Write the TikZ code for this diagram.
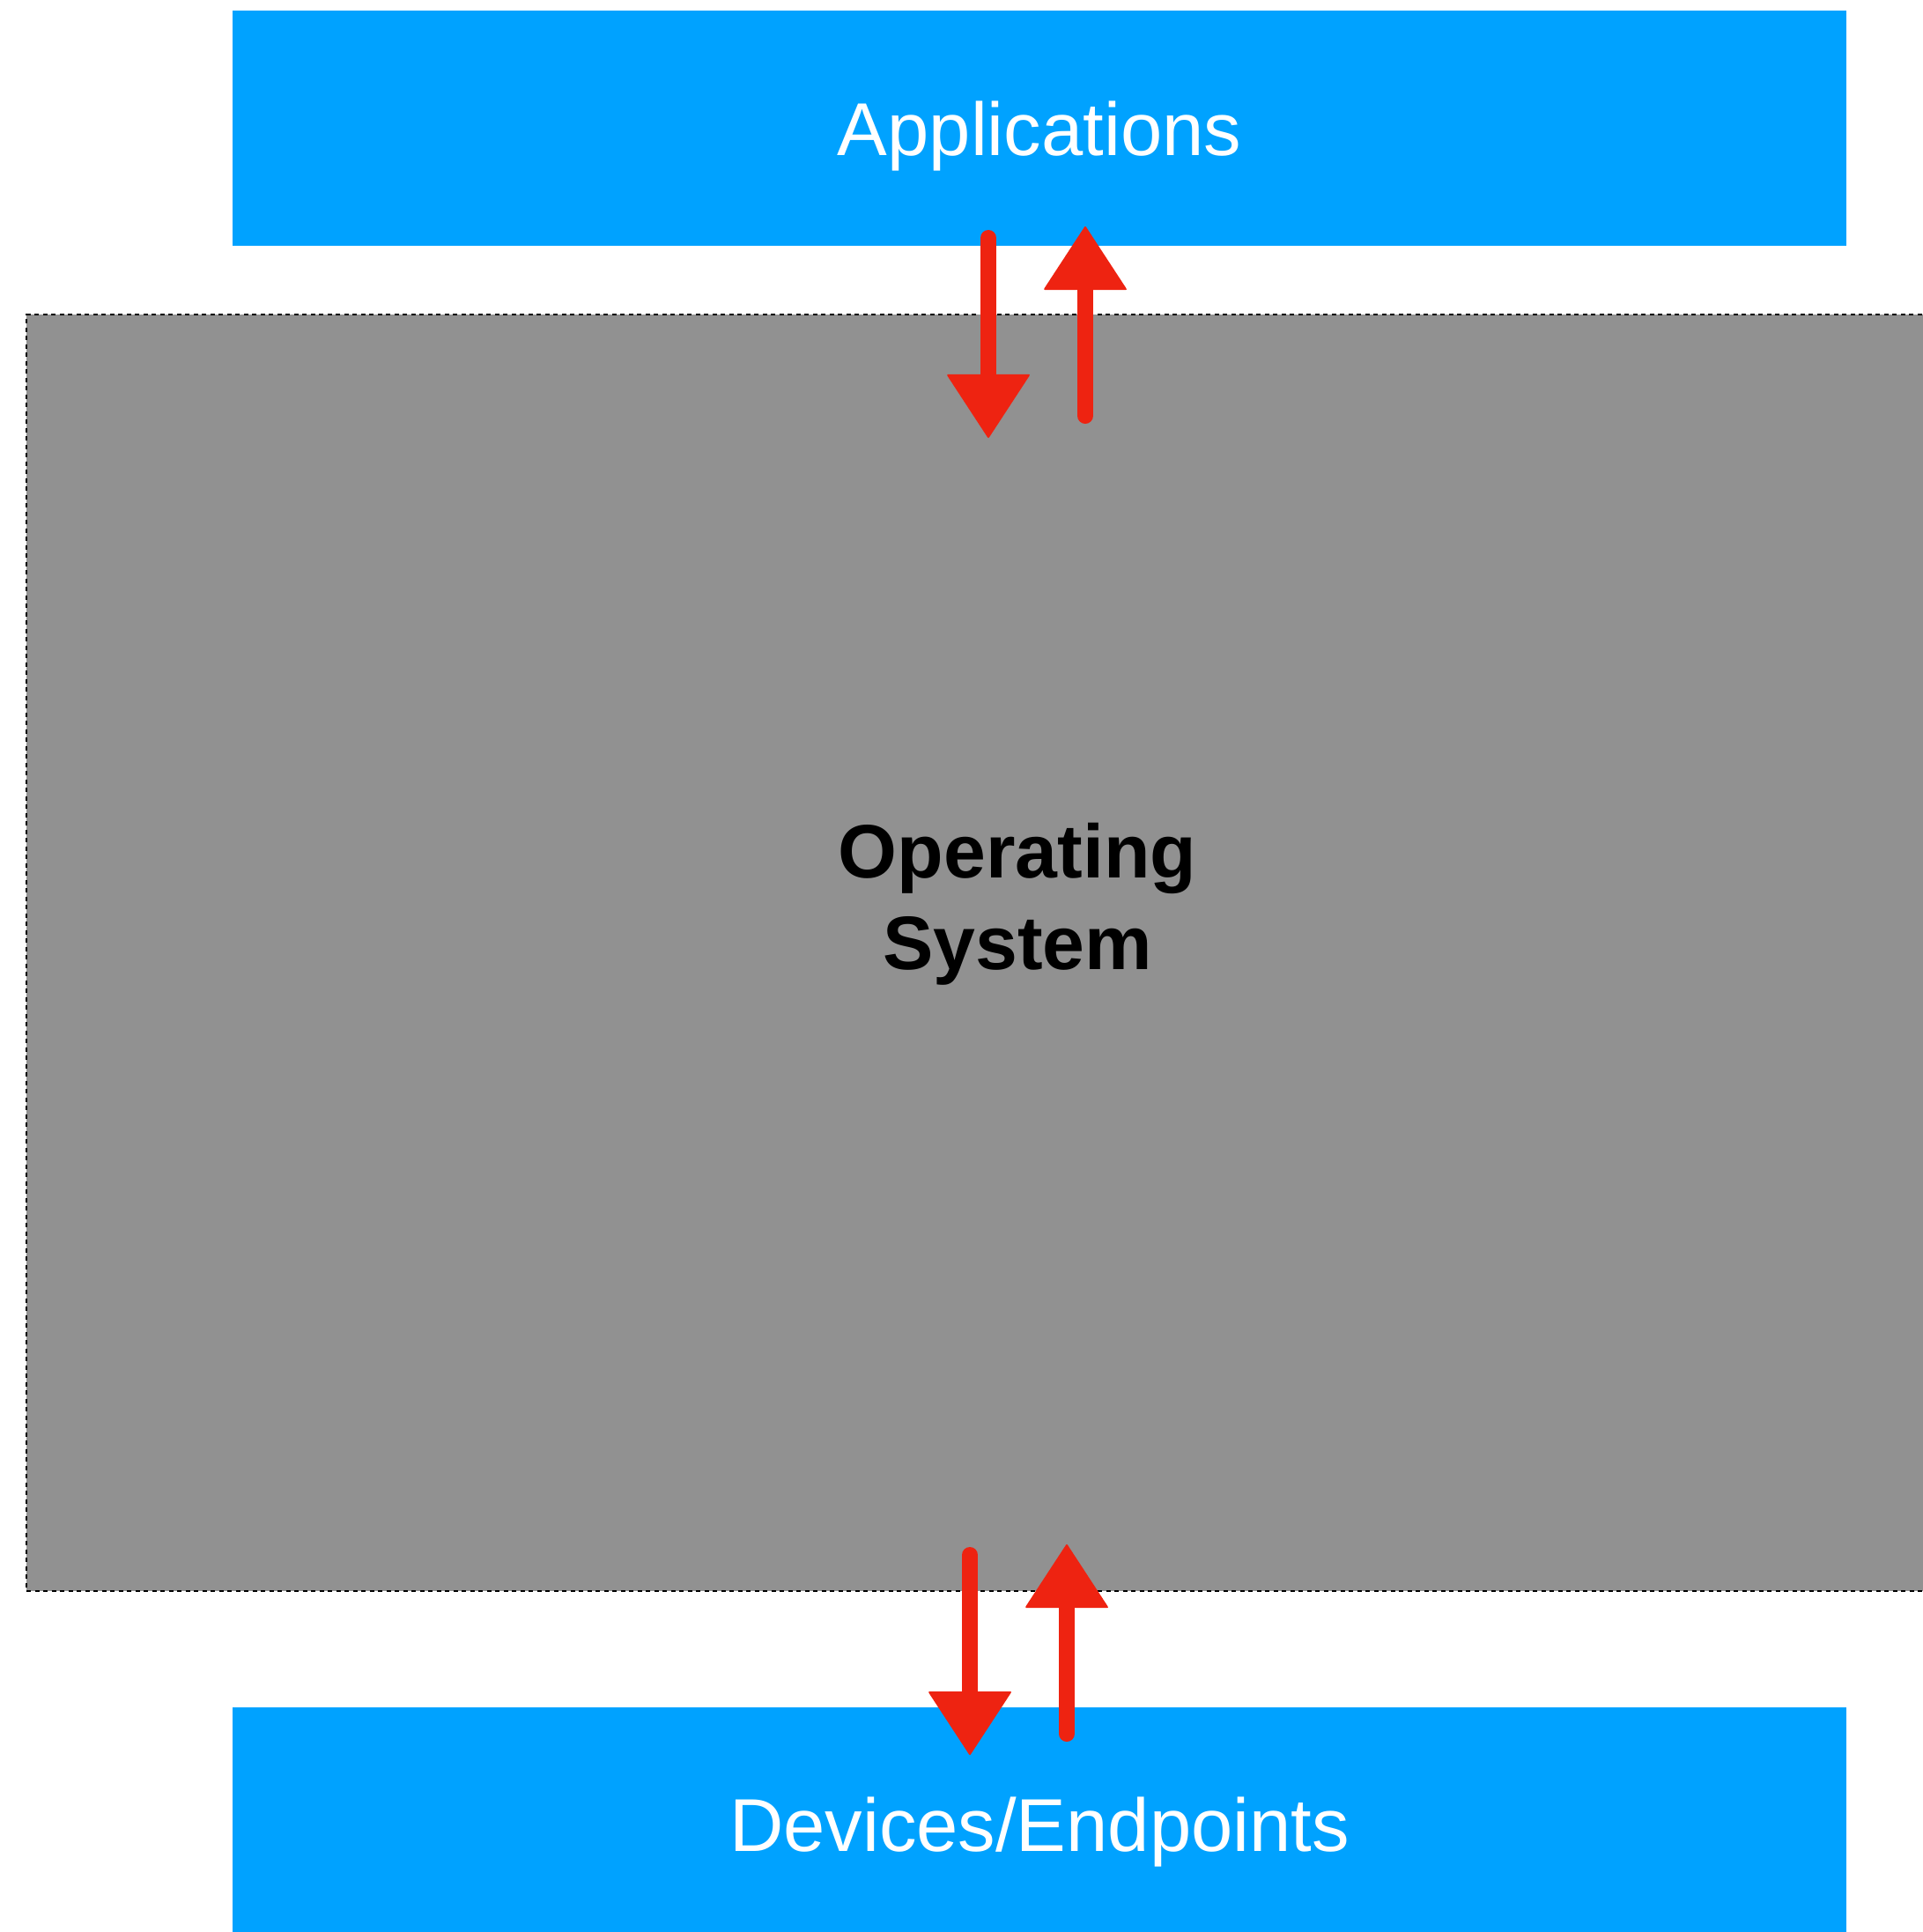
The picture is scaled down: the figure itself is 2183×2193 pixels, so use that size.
\documentclass[tikz,border=0pt]{standalone}
\usepackage{fontspec}
\setmainfont{Liberation Sans}
\usetikzlibrary{arrows.meta}
\definecolor{layerblue}{HTML}{00A2FF}
\definecolor{osgray}{HTML}{919191}
\definecolor{flowred}{HTML}{EE2311}
\tikzset{
  layerbox/.style={fill=layerblue, draw=none, inner sep=0pt, anchor=north west},
  osbox/.style={fill=osgray, draw=black, line width=2pt, dash pattern=on 5pt off 4.5pt, inner sep=0pt, anchor=north west},
  layertext/.style={text=white, font=\fontsize{85}{100}\selectfont, inner sep=0pt, anchor=base},
  ostext/.style={text=black, font=\bfseries\fontsize{86}{104}\selectfont, inner sep=0pt, anchor=base},
  flow/.style={draw=flowred, line width=18pt, line cap=round,
    -{Triangle[width=95pt,length=73pt,round,line width=2pt]}},
}
\begin{document}
\begin{tikzpicture}[x=1pt,y=-1pt]
\useasboundingbox (0,0) rectangle (2183,2193);
% layers
\node[layerbox, minimum width=1832pt, minimum height=267pt] (apps) at (264,12) {};
\node[osbox, minimum width=2180pt, minimum height=1449pt] (os) at (29,356) {};
\node[layerbox, minimum width=1832pt, minimum height=260pt] (dev) at (264,1938) {};
\useasboundingbox (0,0) rectangle (2183,2193);
% labels
\node[layertext] (appslabel) at (1180,176) {Applications};
\node[ostext] (oslabel1) at (1155,996) {Operating};
\node[ostext] (oslabel2) at (1155,1100) {System};
\node[layertext] (devlabel) at (1180,2101) {Devices/Endpoints};
% request / response flows
\coordinate (a1) at (1122,270);
\coordinate (a2) at (1122,497);
\coordinate (b1) at (1232,472);
\coordinate (b2) at (1232,257);
\coordinate (c1) at (1101,1765);
\coordinate (c2) at (1101,1992);
\coordinate (d1) at (1211,1968);
\coordinate (d2) at (1211,1753);
\draw[flow] (a1) -- (a2);
\draw[flow] (b1) -- (b2);
\draw[flow] (c1) -- (c2);
\draw[flow] (d1) -- (d2);
\end{tikzpicture}
\end{document}
